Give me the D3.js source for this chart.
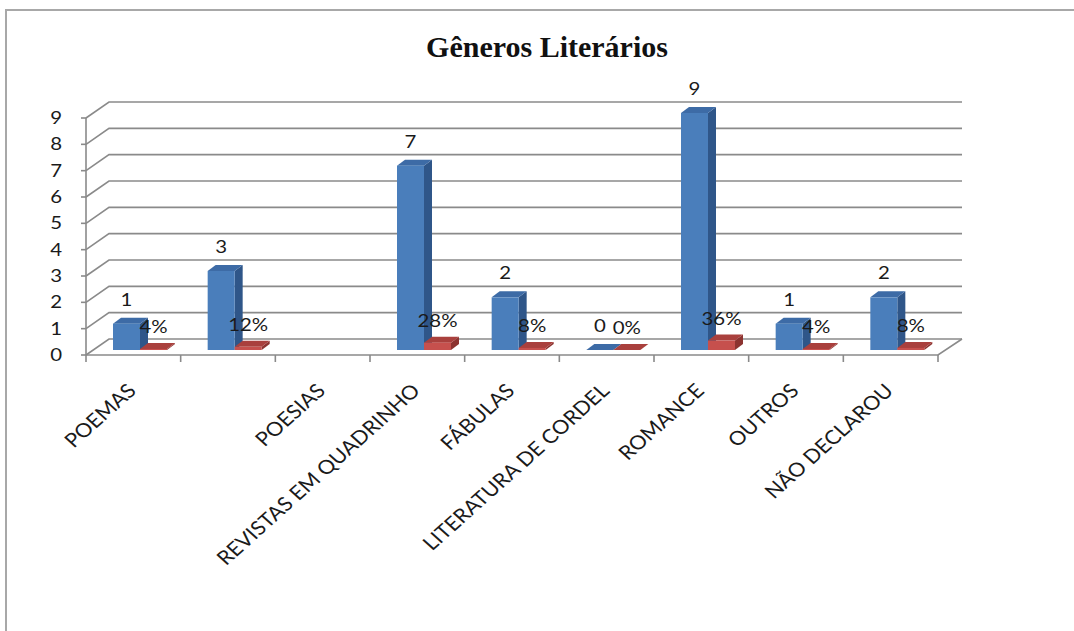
<!DOCTYPE html>
<html lang="pt">
<head>
<meta charset="utf-8">
<title>Gêneros Literários</title>
<script src="https://d3js.org/d3.v7.min.js"></script>
<style>
  body { margin: 0; background: #fff; }
  .lbl { font-family: Lato, "Open Sans", sans-serif; fill: #1a1a1a; }
</style>
</head>
<body>
<script>
// data
var categories = ["POEMAS", "", "POESIAS", "REVISTAS EM QUADRINHO", "FÁBULAS",
                  "LITERATURA DE CORDEL", "ROMANCE", "OUTROS", "NÃO DECLAROU"];
var counts   = [1, 3, null, 7, 2, 0, 9, 1, 2];
var percents = [4, 12, null, 28, 8, 0, 36, 4, 8];
var yTicks   = [0, 1, 2, 3, 4, 5, 6, 7, 8, 9];

var w = 1074, h = 631;
var sx = 1.2;          // the original picture is stretched sideways

// 3d box of the plot
var DX = 23, DY = -16;             // depth of the walls
var bx = 7, by = -5;               // plane where the bars sit
var bdx = 8, bdy = -6;             // depth of one bar
var barW = 27;
var backRight = 962;

var svg = d3.select("body").append("svg").attr("width", w).attr("height", h);
svg.append("rect").attr("width", w).attr("height", h).attr("fill", "white");

// frame
svg.append("path").attr("d", "M6," + h + "V10H" + w)
  .attr("fill", "none").attr("stroke", "#a8a8a8").attr("stroke-width", 2);

// title
svg.append("text").attr("x", 547).attr("y", 57).attr("text-anchor", "middle")
  .style("font-family", "'Liberation Serif', 'Times New Roman', serif")
  .style("font-weight", "bold").style("font-size", "30px").attr("fill", "#111")
  .text("Gêneros Literários");

var x = d3.scaleBand().domain(d3.range(categories.length)).range([86, 938]);
var y = d3.scaleLinear().domain([0, 9]).range([355, 118]);

// back wall grid lines
var grid = svg.append("g").attr("fill", "none").attr("stroke", "#8a8a8a").attr("stroke-width", 1.6);
yTicks.forEach(function(v) {
  var yy = y(v);
  grid.append("path").attr("d", "M86," + yy + "L" + (86 + DX) + "," + (yy + DY) + "H" + backRight);
});
// floor front + right edge, left axis
grid.append("path").attr("d", "M86," + y(0) + "H938L" + backRight + "," + (y(0) + DY));
grid.append("path").attr("d", "M86," + y(9) + "V" + y(0));

// ticks
var ticks = svg.append("g").attr("stroke", "#8a8a8a").attr("stroke-width", 1.6);
yTicks.forEach(function(v) {
  ticks.append("line").attr("x1", 81).attr("x2", 86).attr("y1", y(v)).attr("y2", y(v));
});
d3.range(categories.length + 1).forEach(function(i) {
  var xx = 86 + i * x.bandwidth();
  ticks.append("line").attr("x1", xx).attr("x2", xx).attr("y1", y(0)).attr("y2", y(0) + 7);
});

// y tick labels
svg.selectAll("text.ytick").data(yTicks).enter().append("text")
  .attr("class", "ytick lbl").attr("text-anchor", "end")
  .attr("transform", function(d) { return "translate(62," + (y(d) + 6) + ") scale(" + sx + ",1)"; })
  .style("font-size", "17px").text(function(d) { return d; });

// bars
function bar(g, x0, v, front, top, side) {
  var yb = y(0) + by, yt = y(v) + by;
  g.append("path").attr("fill", side)
    .attr("d", "M" + (x0 + barW) + "," + yb + "V" + yt + "l" + bdx + "," + bdy + "V" + (yb + bdy) + "Z");
  g.append("path").attr("fill", top)
    .attr("d", "M" + x0 + "," + yt + "h" + barW + "l" + bdx + "," + bdy + "h" + (-barW) + "Z");
  g.append("rect").attr("x", x0).attr("y", yt).attr("width", barW).attr("height", yb - yt).attr("fill", front);
  return yt;
}

var bars = svg.append("g");
categories.forEach(function(c, i) {
  if (counts[i] === null) return;
  var x0 = x(i) + 20 + bx;
  var g = bars.append("g");
  var tb = bar(g, x0, counts[i], "#4a7ebb", "#3d6ba6", "#2f5689");
  var tr = bar(g, x0 + barW, percents[i] / 100, "#c6504d", "#a9403d", "#8c3330");
  g.append("text").attr("class", "lbl").attr("text-anchor", "middle")
    .attr("transform", "translate(" + (x0 + barW / 2) + "," + (tb - 18) + ") scale(" + sx + ",1)")
    .style("font-size", "17px").text(counts[i]);
  g.append("text").attr("class", "lbl").attr("text-anchor", "middle")
    .attr("transform", "translate(" + (x0 + barW * 1.5) + "," + (tr - 16) + ") scale(" + sx + ",1)")
    .style("font-size", "17px").text(percents[i] + "%");
});

// category labels
svg.selectAll("text.cat").data(categories).enter().append("text")
  .attr("class", "cat lbl").attr("text-anchor", "end")
  .attr("transform", function(d, i) {
    return "translate(" + (x(i) + x.bandwidth() / 2 + 4) + ",392) scale(1.12,1) rotate(-45)";
  })
  .style("font-size", "19.5px").text(function(d) { return d; });
</script>
</body>
</html>
